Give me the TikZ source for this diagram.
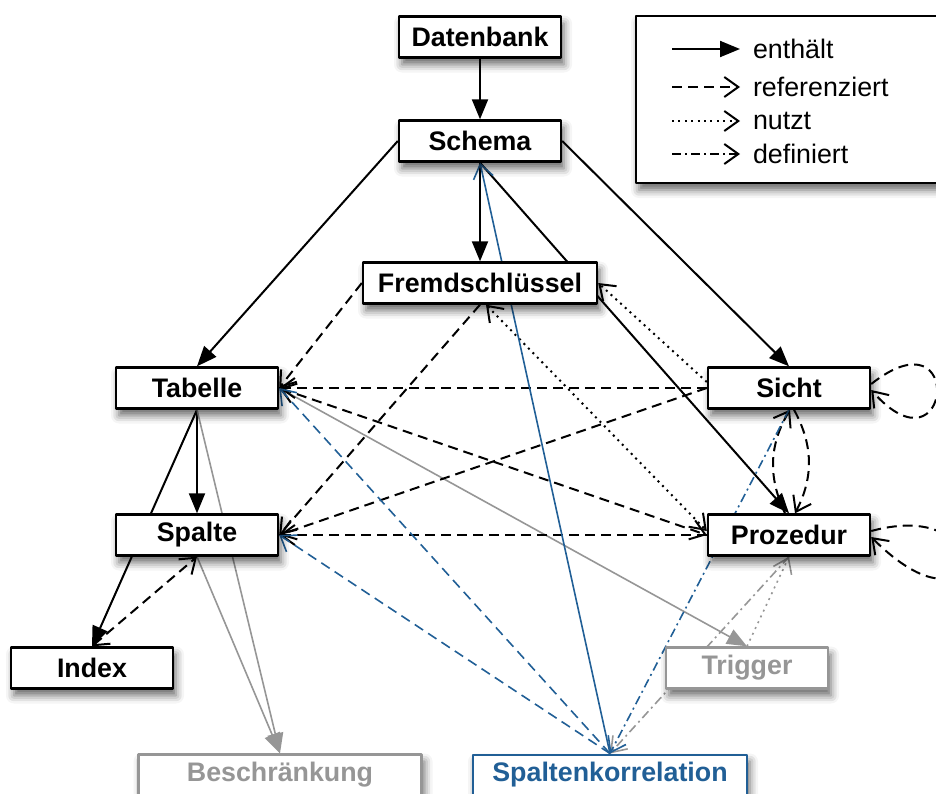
\documentclass[tikz,border=0pt]{standalone}
\usepackage{fontspec}
\setmainfont{Liberation Sans}
\usetikzlibrary{arrows.meta,shadows.blur}
\pgfdeclarelayer{hinten}
\pgfsetlayers{hinten,main}
\definecolor{kblau}{RGB}{33,95,150}
\definecolor{kgrau}{RGB}{150,150,150}
\begin{document}
\begin{tikzpicture}[x=0.5pt,y=-0.5pt, line join=round,
  >={Straight Barb[length=7pt,width=10pt]},
  font=\fontsize{13.4}{16}\selectfont,
  objekt/.style={draw,line width=1.2pt,fill=white,minimum width=81pt,minimum height=20.5pt,inner sep=2pt,
    font=\fontsize{13.4}{16}\selectfont\bfseries,
    blur shadow={shadow xshift=1.5pt,shadow yshift=-3.5pt,shadow blur radius=4pt,shadow opacity=60}},
  grauobj/.style={objekt,draw=kgrau,text=kgrau},
  blauobj/.style={objekt,draw=kblau,text=kblau,line width=1pt},
  enth/.style={line width=1pt,-{Triangle[length=10pt,width=8pt]}},
  refz/.style={line width=1pt,dash pattern=on 5pt off 3pt,->},
  nutzt/.style={line width=1pt,dash pattern=on 1pt off 2.2pt,->},
  defi/.style={line width=1pt,dash pattern=on 4.5pt off 2pt on 1pt off 2pt,->},
  duenn/.style={line width=0.8pt}]
\useasboundingbox (0,0) rectangle (936,793);
% Objekte
\node[objekt] (datenbank) at (480,37) {Datenbank};
\node[objekt] (schema) at (480,141) {Schema};
\node[objekt,minimum width=117pt] (fremd) at (480,283) {Fremdschlüssel};
\node[objekt] (tabelle) at (197,388) {Tabelle};
\node[objekt] (sicht) at (789,388) {Sicht};
\node[objekt] (spalte) at (197,535) {Spalte};
\node[objekt] (prozedur) at (789,535) {Prozedur};
\node[objekt] (index) at (92,668) {Index};
\node[grauobj] (trigger) at (747,668) {Trigger};
\node[grauobj,minimum width=141.5pt] (beschr) at (280,775) {Beschränkung};
\node[blauobj,minimum width=137pt] (spkorr) at (610,775) {Spaltenkorrelation};
% Legende
\node[objekt,minimum width=170pt,minimum height=83.5pt] (legende) at (806,99.5) {};
\foreach \y/\st/\tx [count=\i] in {49/enth/enthält,87/refz/referenziert,121/nutzt/nutzt,154/defi/definiert}{
  \coordinate (l\i) at (672,\y);
  \draw[\st] (l\i) -- ++(68,0) node[right,inner sep=0pt,xshift=6pt] (lt\i) {\tx};
}
\begin{pgfonlayer}{hinten}
% enthält
\draw[enth] (datenbank) -- (schema);
\draw[enth] (schema) -- (fremd);
\draw[enth] (schema.west) -- (tabelle.north);
\draw[enth] (schema.east) -- (sicht.north);
\draw[enth] (schema.south) -- (prozedur.north);
\draw[enth] (tabelle) -- (spalte);
\draw[enth] (tabelle.south) -- (index.north);
\draw[enth,duenn,kgrau] (tabelle.south) -- (beschr.north);
\draw[enth,duenn,kgrau] (spalte.south) -- (beschr.north);
\draw[enth,duenn,kgrau] (tabelle.east) -- (trigger.north);
% referenziert
\draw[refz,<->] (index.north) -- (spalte.south);
\draw[refz] (fremd.west) -- (tabelle.east);
\draw[refz] (fremd.south) -- (spalte.east);
\draw[refz] (sicht.west) -- (tabelle.east);
\draw[refz] (sicht.west) -- (spalte.east);
\draw[refz,<->] (tabelle.east) -- (prozedur.west);
\draw[refz] (prozedur.west) -- (spalte.east);
\draw[refz] ([xshift=-2pt]prozedur.north) to[bend left=28] ([xshift=0.5pt]sicht.south);
\draw[refz] ([xshift=2.5pt]sicht.south) to[bend left=28] ([xshift=3pt]prozedur.north);
\draw[refz] ([yshift=2pt]sicht.east) .. controls +(95,-75) and +(80,90) .. ([yshift=-1pt]sicht.east);
\draw[refz] ([yshift=2pt]prozedur.east) .. controls +(130,-35) and +(110,110) .. ([yshift=-1pt]prozedur.east);
\draw[refz,duenn,kblau] (spkorr.north) -- (tabelle.east);
\draw[refz,duenn,kblau] (spkorr.north) -- (spalte.east);
% nutzt
\draw[nutzt] ([yshift=3pt]sicht.west) -- (fremd.east);
\draw[nutzt,<->] ([xshift=3pt]fremd.south) -- ([yshift=2pt]prozedur.west);
\draw[nutzt,duenn,kgrau] (trigger.north) -- (prozedur.south);
% definiert
\draw[defi,duenn,kgrau] (prozedur.south) -- (spkorr.north);
\draw[defi,duenn,kblau] (sicht.south) -- (spkorr.north);
\draw[duenn,kblau,->] (spkorr.north) -- (schema.south);
\end{pgfonlayer}
\end{tikzpicture}
\end{document}
